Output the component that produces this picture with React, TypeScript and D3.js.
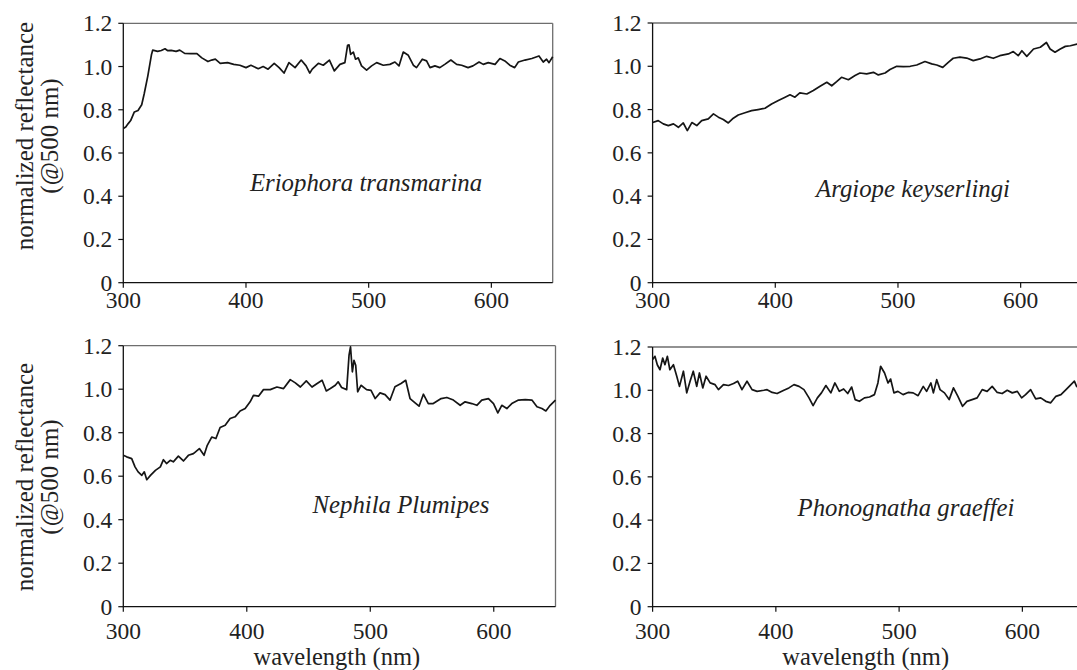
import React from 'react';
import * as d3 from 'd3';

// ---- data (wavelength nm, normalized reflectance) ----
const yTickValues = [0, 0.2, 0.4, 0.6, 0.8, 1.0, 1.2];
const xTickValues = [300, 400, 500, 600];

const eriophora: [number, number][] = [
  [300,0.713],[302,0.72],[304,0.736],[306,0.75],[309,0.79],[312,0.797],[315,0.823],[317,0.873],[320,0.957],[323,1.056],[324,1.076],[328,1.07],[331,1.074],[334,1.082],[336,1.074],[339,1.075],[343,1.07],[346,1.076],[350,1.061],[355,1.06],[360,1.06],[364,1.04],[369,1.023],[372,1.03],[375,1.034],[379,1.015],[385,1.018],[390,1.01],[395,1.006],[400,0.995],[404,1.006],[410,0.99],[414,1.0],[418,0.988],[423,1.015],[427,0.995],[431,0.97],[435,1.018],[440,0.995],[445,1.03],[449,1.003],[452,0.97],[454,0.988],[459,1.015],[463,1.006],[468,1.03],[472,0.98],[476.6,1.01],[480.6,1.018],[482.8,1.098],[484,1.1],[485.3,1.056],[487.5,1.067],[489.3,1.034],[491.5,1.04],[494.2,1.003],[498.3,0.983],[502.4,1.003],[506.5,1.018],[511.9,1.006],[517.3,1.01],[521.4,1.021],[524.7,1.003],[528.2,1.067],[532.3,1.052],[536.4,1.006],[539,0.995],[543.7,1.034],[547.2,1.026],[550,0.995],[554,1.003],[558,0.995],[562,1.01],[567,1.03],[571.7,1.01],[575.8,1.006],[581,0.995],[585,1.003],[590,1.021],[593.4,1.01],[597.5,1.018],[603,1.01],[607,1.037],[611,1.026],[615,1.006],[619,0.995],[622,1.021],[627.4,1.03],[633,1.037],[638.8,1.049],[642.3,1.021],[645,1.034],[647,1.018],[650,1.045]
];

const argiope: [number, number][] = [
  [300,0.74],[304.6,0.749],[308.7,0.734],[312.8,0.726],[317,0.734],[321,0.718],[325,0.738],[328.3,0.703],[332,0.74],[336,0.726],[340,0.749],[345.4,0.757],[349.6,0.78],[353.6,0.765],[357.6,0.754],[361.7,0.738],[365.8,0.76],[369.8,0.775],[375.3,0.785],[380.7,0.795],[386,0.8],[391.6,0.806],[397,0.826],[402.5,0.842],[408,0.857],[412,0.868],[416,0.857],[420,0.877],[425.7,0.872],[431,0.888],[436.5,0.908],[442,0.926],[446,0.91],[450,0.929],[454,0.949],[459.6,0.938],[465,0.957],[469,0.969],[474.5,0.965],[480,0.972],[484,0.96],[489.5,0.969],[493.5,0.985],[499,1.0],[504.4,0.998],[510,1.0],[515.3,1.006],[522,1.022],[527.5,1.011],[531.6,1.006],[536.5,0.995],[541,1.018],[545,1.037],[550.5,1.042],[556,1.038],[561.4,1.026],[566.8,1.034],[572.3,1.046],[577.7,1.037],[583,1.049],[590,1.057],[594,1.068],[598,1.049],[601,1.072],[605,1.046],[610.5,1.08],[616,1.088],[621,1.11],[624,1.08],[628,1.065],[632.3,1.08],[636.4,1.092],[640.5,1.095],[646,1.103],[650,1.1]
];

const nephila: [number, number][] = [
  [300,0.696],[302.7,0.689],[306.8,0.681],[309.5,0.643],[312,0.62],[315,0.604],[317,0.62],[319,0.584],[322,0.604],[326,0.627],[330,0.643],[332.5,0.676],[335,0.658],[338,0.673],[340.5,0.666],[344.6,0.692],[348.7,0.67],[352.7,0.696],[356.8,0.704],[361.6,0.727],[365.4,0.696],[368,0.742],[371.6,0.78],[375,0.773],[378.4,0.824],[382.5,0.834],[386.5,0.865],[390.5,0.873],[394.6,0.9],[398.7,0.911],[402.7,0.942],[405.4,0.972],[409.5,0.968],[413.5,0.998],[419,0.998],[424.4,1.01],[429.8,1.003],[435.2,1.044],[439.3,1.029],[443.4,1.01],[448.2,1.038],[452.8,1.01],[457,1.026],[461,1.041],[464.4,0.992],[467.7,1.003],[471.7,1.018],[474,1.034],[476.8,1.008],[480.9,0.998],[482.8,1.156],[484,1.195],[485.5,1.08],[486.8,1.133],[488.2,1.11],[489.8,0.988],[492.5,1.018],[497,0.998],[500.6,0.995],[504,0.957],[507.9,0.983],[512,0.975],[516,0.95],[520,1.011],[524.9,1.026],[528.7,1.041],[532.2,0.957],[536.3,0.937],[539.5,0.922],[543,0.977],[547,0.934],[551,0.934],[557.4,0.957],[562,0.962],[567.3,0.95],[572.8,0.926],[576.8,0.942],[582.2,0.934],[586.3,0.926],[590.3,0.95],[595.7,0.957],[599.8,0.934],[603.3,0.891],[606.5,0.926],[610.6,0.911],[614.6,0.934],[620,0.95],[625.5,0.952],[630.9,0.95],[635,0.919],[639,0.911],[642.2,0.9],[645.7,0.926],[650,0.95]
];

const phonognatha: [number, number][] = [
  [300,1.142],[301.9,1.157],[303.8,1.118],[306,1.095],[308.2,1.149],[310,1.118],[312,1.157],[314,1.095],[316.9,1.118],[319.6,1.065],[321.8,1.018],[325,1.088],[327.7,0.988],[330.4,1.042],[333,1.088],[335.8,1.018],[338,1.08],[340.7,1.011],[343.4,1.065],[346.7,1.034],[350.7,1.026],[353.4,1.003],[357.5,1.026],[361.6,1.022],[365.7,1.031],[369,1.042],[372.5,1.003],[376.6,1.042],[380.7,1.003],[384.8,0.995],[390.2,1.0],[392.9,1.003],[397,0.99],[401,0.985],[406.5,1.0],[410.6,1.011],[414.7,1.026],[418.8,1.018],[422.8,1.003],[426.9,0.965],[430.2,0.929],[433.7,0.965],[437,0.988],[440.6,1.022],[444.6,0.988],[447.9,1.034],[451.5,0.995],[455,1.006],[458.3,0.985],[461.5,1.015],[464.3,0.957],[467.8,0.949],[471.9,0.965],[476,0.969],[480,0.98],[482.8,1.034],[485,1.111],[488.2,1.08],[491,1.034],[493.1,1.052],[495.8,0.988],[499,0.995],[503.2,0.98],[507.3,0.99],[511.4,0.988],[515.4,0.975],[519.6,1.018],[522.3,0.995],[525.8,1.034],[527.8,0.988],[530.5,1.049],[533.2,1.003],[536.8,0.988],[540.6,0.957],[544.1,1.011],[547.7,0.972],[551.5,0.926],[555,0.949],[559.2,0.957],[563.3,0.965],[567.4,1.003],[571.4,0.995],[575.5,1.018],[579.6,0.99],[583.6,0.985],[587.7,1.0],[591.8,0.988],[595.9,0.995],[599.4,0.965],[602.6,0.98],[606.7,1.003],[610.8,0.96],[614.9,0.965],[619,0.949],[623,0.942],[627.2,0.972],[631.3,0.98],[635.4,1.003],[639.4,1.026],[642.2,1.042],[644,1.018],[646.3,1.011],[650,1.02]
];

const speciesNames = ['Eriophora transmarina', 'Argiope keyserlingi', 'Nephila Plumipes', 'Phonognatha graeffei'];
const yTitle = ['normalized reflectance', '(@500 nm)'];
const xTitle = 'wavelength (nm)';

// ---- layout ----
const W = 1077, H = 670;
const FONT = "'Liberation Serif', 'Times New Roman', serif";

type Panel = {
  data: [number, number][];
  name: string;
  left: number; right: number; top: number; bottom: number;
  labelX: number; labelY: number;
  xLabelDy: number;
  yTitleY: number | null;
  showXTitle: boolean;
};

const panels: Panel[] = [
  { data: eriophora, name: speciesNames[0], left: 123.3, right: 552.7, top: 23.3, bottom: 282.7, labelX: 366, labelY: 191, xLabelDy: 25.5, yTitleY: 136, showXTitle: false },
  { data: argiope, name: speciesNames[1], left: 652.6, right: 1082, top: 23, bottom: 282.7, labelX: 913, labelY: 197, xLabelDy: 25.5, yTitleY: null, showXTitle: false },
  { data: nephila, name: speciesNames[2], left: 123.3, right: 555.5, top: 345.7, bottom: 606.7, labelX: 401, labelY: 513, xLabelDy: 32, yTitleY: 477, showXTitle: true },
  { data: phonognatha, name: speciesNames[3], left: 652.6, right: 1084, top: 347, bottom: 606.7, labelX: 906, labelY: 516, xLabelDy: 32, yTitleY: null, showXTitle: true },
];

function PanelView({ p }: { p: Panel }) {
  const x = d3.scaleLinear().domain([300, 650]).range([p.left, p.right]);
  const y = d3.scaleLinear().domain([0, 1.2]).range([p.bottom, p.top]);
  const line = d3.line<[number, number]>().x(d => x(d[0])).y(d => y(d[1]));
  const fmt = (v: number) => (v === 0 ? '0' : d3.format('.1f')(v));
  return (
    <g fontFamily={FONT} fill="#222">
      {/* top & right frame */}
      <line x1={p.left} x2={p.right} y1={p.top} y2={p.top} stroke="#6e6e6e" strokeWidth={1.3} />
      <line x1={p.right} x2={p.right} y1={p.top} y2={p.bottom} stroke="#6e6e6e" strokeWidth={1.3} />
      {/* axes */}
      <line x1={p.left} x2={p.left} y1={p.top} y2={p.bottom + 0.6} stroke="#111" strokeWidth={1.3} />
      <line x1={p.left} x2={p.right} y1={p.bottom} y2={p.bottom} stroke="#111" strokeWidth={1.3} />
      {yTickValues.map(v => (
        <g key={'y' + v}>
          <line x1={p.left - 5} x2={p.left} y1={y(v)} y2={y(v)} stroke="#111" strokeWidth={1.2} />
          <text x={p.left - 11} y={y(v) + 8} textAnchor="end" fontSize={23.5}>{fmt(v)}</text>
        </g>
      ))}
      {xTickValues.map(v => (
        <g key={'x' + v}>
          <line x1={x(v)} x2={x(v)} y1={p.bottom} y2={p.bottom + 5} stroke="#111" strokeWidth={1.2} />
          <text x={x(v)} y={p.bottom + p.xLabelDy} textAnchor="middle" fontSize={23.5}>{v}</text>
        </g>
      ))}
      <path d={line(p.data) || ''} fill="none" stroke="#151515" strokeWidth={1.7} strokeLinejoin="round" />
      <text x={p.labelX} y={p.labelY} textAnchor="middle" fontSize={24.8} fontStyle="italic">{p.name}</text>
      {p.yTitleY !== null && (
        <g>
          <text transform={`translate(33,${p.yTitleY}) rotate(-90)`} textAnchor="middle" fontSize={25}>{yTitle[0]}</text>
          <text transform={`translate(58,${p.yTitleY}) rotate(-90)`} textAnchor="middle" fontSize={25}>{yTitle[1]}</text>
        </g>
      )}
      {p.showXTitle && (
        <text x={p.left + (p.right - p.left) * 0.494} y={665} textAnchor="middle" fontSize={24.5}>{xTitle}</text>
      )}
    </g>
  );
}

export default function App() {
  return (
    <svg width={W} height={H} style={{ position: 'absolute', left: 0, top: 0, background: '#fff' }}>
      <rect width={W} height={H} fill="#fff" />
      {panels.map((p, i) => <PanelView key={i} p={p} />)}
    </svg>
  );
}
